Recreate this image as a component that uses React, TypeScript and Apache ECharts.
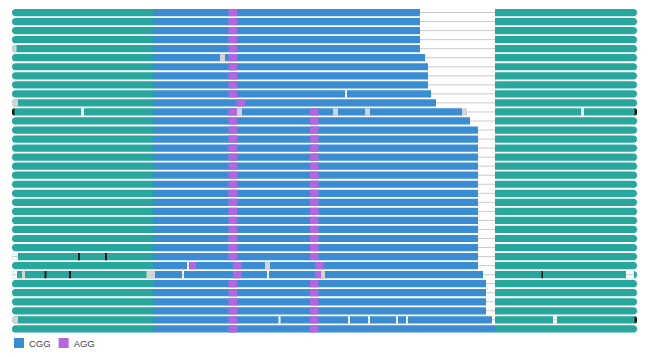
import React, { useEffect, useRef } from "react";
import * as echarts from "echarts";

// ---- data (positions along the read, left flank starts at 0) ----
const READS = Array.from({ length: 36 }, (_, i) => `Read ${i + 1}`);

const SEQ_END = 625; // end of 3' flank
const FLANK5_END = 141; // first CGG starts here
const FLANK3_START = 483; // 3' flank starts here

// end of the repeat tract (CGG region) per read
const CGG_END = [
  408, 408, 408, 408, 408, 413, 416, 416, 416, 419, 424, 450,
  458, 466, 466, 466, 466, 466, 466, 466, 466, 466, 466, 466,
  466, 466, 466, 466, 466, 471, 474, 474, 474, 474, 480, 483,
];

// AGG interruptions: start position per read (null = none); width AGG_W
const AGG_W = 8.5;
const AGG1_START = [
  216.5, 216.5, 216.5, 216.5, 216.5, 216.5, 216.5, 216.5, 216.5, 216.5, 224.5, 216.5,
  216.5, 216.5, 216.5, 216.5, 216.5, 216.5, 216.5, 216.5, 216.5, 216.5, 216.5, 216.5,
  216.5, 216.5, 216.5, 216.5, 221, 221, 216.5, 216.5, 216.5, 216.5, 216.5, 216.5,
];
const AGG2_START: (number | null)[] = [
  null, null, null, null, null, null, null, null, null, null, null, 298,
  298, 298, 298, 298, 298, 298, 298, 298, 298, 298, 298, 298,
  298, 298, 298, 298, 303, 303, 298, 298, 298, 298, 298, 298,
];
const AGG_EXTRA = [[28, 177.5, 184]];

// other marks: [read index, start, end]
const GRAY_MARKS = [
  [4, 0, 4.5], [5, 208, 213], [10, 0, 6], [11, 225, 230], [11, 321, 326],
  [11, 353, 358], [11, 450, 455], [28, 253, 258], [29, 10, 13],
  [29, 134.5, 143], [29, 309, 313], [34, 0, 6],
];
const GAP_MARKS = [
  [9, 333, 335], [11, 69, 72], [11, 569, 572], [27, 0, 6], [28, 175, 177],
  [29, 0, 5], [29, 170, 172], [29, 255, 257], [29, 614, 622],
  [34, 266.5, 268.5], [34, 336, 338], [34, 356, 358], [34, 384, 386],
  [34, 394, 396], [34, 541, 545],
];
const BLACK_MARKS = [
  [11, 0, 2.5], [11, 622.5, 625], [27, 66, 68], [27, 93, 95],
  [29, 32.5, 34.5], [29, 57, 59], [29, 529.5, 531], [34, 622.5, 625],
];

const COLORS = {
  flank: "#28a79f",
  cgg: "#3a8dd3",
  agg: "#b366e0",
  gray: "#d3d3d3",
  gap: "#cccccc",
  black: "#1b1b1b",
};

function makeRender(kind: string) {
  return (params: any, api: any) => {
    const row = api.value(0);
    const s = api.value(1);
    const e = api.value(2);
    const a = api.coord([s, row]);
    const b = api.coord([e, row]);
    const band = api.size([0, 1])[1];
    const h = band * 0.8;
    const y = a[1] - h / 2;
    const w = b[0] - a[0];
    const color = api.visual("color");
    if (kind === "line") {
      return {
        type: "line",
        shape: { x1: a[0], y1: a[1], x2: b[0], y2: a[1] },
        style: { stroke: color, lineWidth: 1 },
      };
    }
    const rl = s <= 0 ? h / 2 : 0;
    const rr = e >= SEQ_END ? h / 2 : 0;
    if (kind === "gapmark") {
      return {
        type: "group",
        children: [
          { type: "rect", shape: { x: a[0], y, width: w, height: h, r: [rl, rr, rr, rl] }, style: { fill: "#ffffff" } },
          { type: "line", shape: { x1: a[0], y1: a[1], x2: b[0], y2: a[1] }, style: { stroke: COLORS.gap, lineWidth: 1 } },
        ],
      };
    }
    return {
      type: "rect",
      shape: { x: a[0], y, width: w, height: h, r: [rl, rr, rr, rl] },
      style: { fill: color },
    };
  };
}

function seg(name: string, kind: string, color: string, z: number, data: any[]) {
  return {
    name,
    type: "custom",
    z,
    renderItem: makeRender(kind),
    itemStyle: { color },
    encode: { x: [1, 2], y: 0 },
    data,
    silent: true,
  };
}

export default function App() {
  const ref = useRef<HTMLDivElement>(null);
  useEffect(() => {
    document.body.style.margin = "0";
    const chart = echarts.init(ref.current!, null, { renderer: "svg" });

    const flankData: any[] = [];
    const cggData: any[] = [];
    const gapData: any[] = [];
    const aggData: any[] = [];
    READS.forEach((_, i) => {
      flankData.push([i, 0, FLANK5_END]);
      flankData.push([i, FLANK3_START, SEQ_END]);
      cggData.push([i, FLANK5_END, CGG_END[i]]);
      if (CGG_END[i] < FLANK3_START) gapData.push([i, CGG_END[i], FLANK3_START]);
      aggData.push([i, AGG1_START[i], AGG1_START[i] + AGG_W]);
      const a2 = AGG2_START[i];
      if (a2 !== null) aggData.push([i, a2, a2 + AGG_W]);
    });
    AGG_EXTRA.forEach((m) => aggData.push(m));

    chart.setOption({
      animation: false,
      grid: { left: 12, right: 13, top: 8, height: 325.4 },
      xAxis: { type: "value", min: 0, max: SEQ_END, show: false },
      yAxis: { type: "category", data: READS, inverse: true, show: false },
      legend: {
        data: ["CGG", "AGG"],
        icon: "rect",
        left: 14,
        top: 338,
        padding: 0,
        itemWidth: 10,
        itemHeight: 10,
        itemGap: 8,
        selectedMode: false,
        textStyle: { fontSize: 9.5, color: "#444", fontFamily: "Liberation Sans" },
      },
      series: [
        seg("Flank", "rect", COLORS.flank, 1, flankData),
        seg("CGG", "rect", COLORS.cgg, 2, cggData),
        seg("Gap", "line", COLORS.gap, 2, gapData),
        seg("AGG", "rect", COLORS.agg, 3, aggData),
        seg("Unknown", "rect", COLORS.gray, 4, GRAY_MARKS),
        seg("Deletion", "gapmark", "#ffffff", 5, GAP_MARKS),
        seg("Variant", "rect", COLORS.black, 6, BLACK_MARKS),
      ],
    });
    return () => chart.dispose();
  }, []);
  return <div ref={ref} style={{ width: 650, height: 357 }} />;
}
